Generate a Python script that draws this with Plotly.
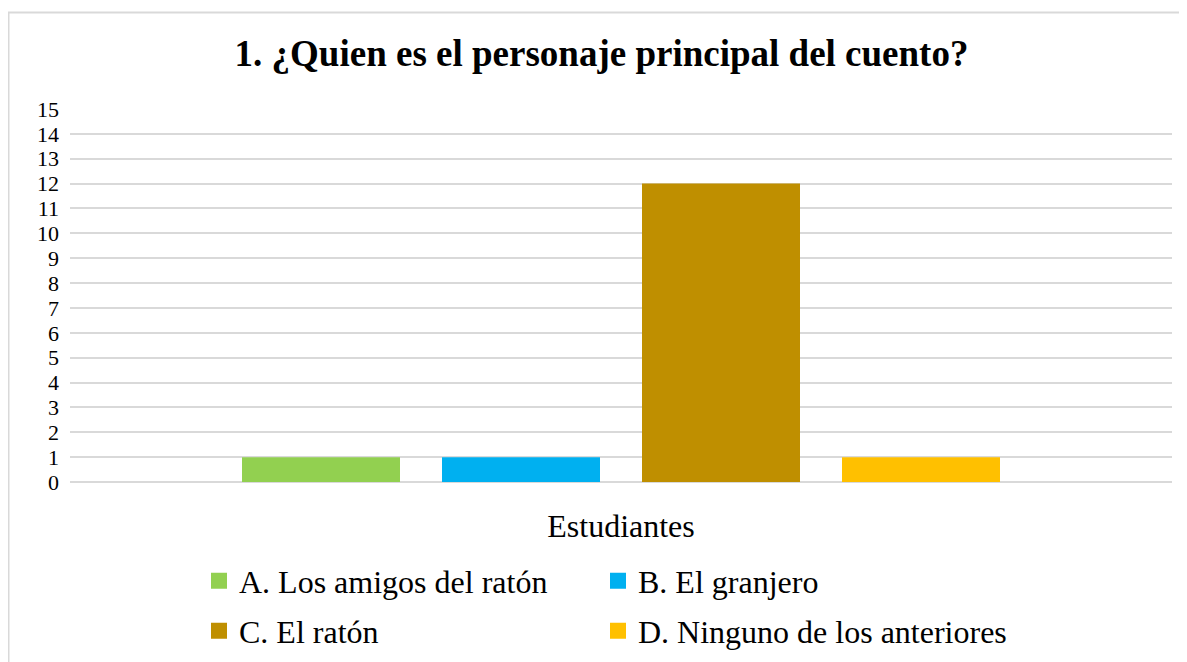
import plotly.graph_objects as go

categories = ["Estudiantes"]
series_names = ["A. Los amigos del ratón", "B. El granjero", "C. El ratón", "D. Ninguno de los anteriores"]
series_values = [[1], [1], [12], [1]]
series_colors = ["#92D050", "#00B0F0", "#BF8F00", "#FFC000"]
series_legend = ["legend", "legend2", "legend3", "legend4"]
y_ticks = list(range(0, 16))

OFF = 8  # page body margin
W, H = 1187 - OFF, 662 - OFF
L, R, T, B = 70 - OFF, 15, 109 - OFF, 180
PW, PH = W - L - R, H - T - B

SERIF = "Liberation Serif, Times New Roman, serif"

fig = go.Figure()
for name, vals, col in zip(series_names, series_values, series_colors):
    fig.add_trace(go.Bar(x=categories, y=vals, name=name, marker=dict(color=col, line=dict(width=0)),
                         showlegend=False, hoverinfo="skip"))
# legend entries with larger square keys
for name, col, lg in zip(series_names, series_colors, series_legend):
    fig.add_trace(go.Scatter(x=[None], y=[None], mode="markers", name=name, legend=lg,
                             marker=dict(symbol="square", size=17, color=col, line=dict(width=0)),
                             hoverinfo="skip"))

def xp(x):  # page px -> paper
    return (x - OFF - L) / PW

def yp(y):
    return (H - B - (y - OFF)) / PH

legend_common = dict(orientation="v", font=dict(family=SERIF, size=32, color="#000"),
                     itemwidth=30, bgcolor="rgba(0,0,0,0)", xanchor="left", yanchor="middle",
                     itemclick=False, itemdoubleclick=False)

fig.update_layout(
    width=W, height=H,
    margin=dict(l=L, r=R, t=T, b=B, autoexpand=False),
    paper_bgcolor="white", plot_bgcolor="white",
    barmode="group", bargap=1 - 800 / PW, bargroupgap=0.21,
    title=dict(text="<b>1. ¿Quien es el personaje principal del cuento?</b>",
               font=dict(family=SERIF, size=37, color="#000"),
               x=(601.5 - OFF) / W, xanchor="center", xref="container",
               y=1 - 45 / H, yanchor="middle", yref="container"),
    xaxis=dict(type="category", showgrid=False, showline=False, zeroline=False,
               ticks="outside", ticklen=16, tickcolor="rgba(0,0,0,0)",
               tickfont=dict(family=SERIF, size=32, color="#000")),
    yaxis=dict(range=[0, 15], tickvals=y_ticks, showgrid=True, gridcolor="#D9D9D9", gridwidth=1.5,
               zeroline=True, zerolinecolor="#D9D9D9", zerolinewidth=1.5, showline=False,
               ticklabelstandoff=10,
               tickfont=dict(family=SERIF, size=22, color="#000")),
    legend=dict(**legend_common, x=xp(199), y=yp(581)),
    legend2=dict(**legend_common, x=xp(598), y=yp(581)),
    legend3=dict(**legend_common, x=xp(199), y=yp(631)),
    legend4=dict(**legend_common, x=xp(598), y=yp(631)),
    shapes=[dict(type="rect", xref="paper", yref="paper",
                 x0=xp(8.5), x1=xp(1200), y0=yp(700), y1=yp(12.5),
                 line=dict(color="#D9D9D9", width=2), fillcolor="rgba(0,0,0,0)", layer="below")],
)

fig.write_html("out.html")
